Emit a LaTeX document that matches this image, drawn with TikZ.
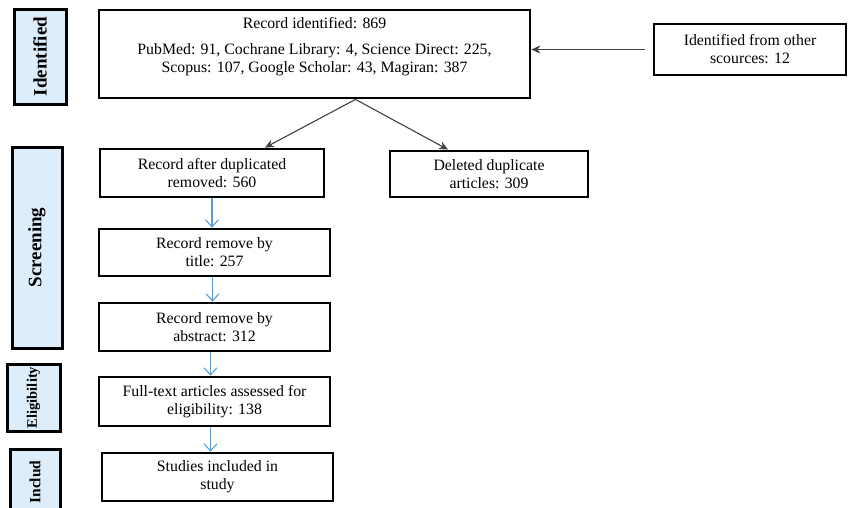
\documentclass[tikz,border=0pt]{standalone}
\usepackage{fontspec}
\setmainfont{Liberation Serif}
\usetikzlibrary{arrows.meta, positioning}
\definecolor{stagefill}{HTML}{DDEEFA}
\definecolor{flowblue}{HTML}{5B9BD5}
\definecolor{arrowgray}{HTML}{3E4440}

\begin{document}
\begin{tikzpicture}[x=1pt, y=-1pt,
    recbox/.style={draw=black, line width=2.8pt, fill=white, align=center,
      inner sep=2pt, font=\fontsize{15.8}{18}\selectfont},
    stagebox/.style={draw=black, line width=3pt, fill=stagefill, rotate=90,
      inner sep=0pt, font=\bfseries\fontsize{19}{22}\selectfont},
    grayarrow/.style={draw=arrowgray, line width=1.1pt,
      -{Stealth[length=9pt, width=8pt]}},
    bluearrow/.style={draw=flowblue, line width=1.1pt,
      -{Straight Barb[length=7pt, width=13pt]}}
  ]
  \useasboundingbox (0,0) rectangle (848,507);
  \clip (0,0) rectangle (848,507);

  % stages
  \node[stagebox, minimum width=95pt, minimum height=52pt] (sIdent) at (40,56.5) {Identified};
  \node[stagebox, minimum width=201pt, minimum height=50pt] (sScreen) at (37,247.5) {Screening};
  \node[stagebox, minimum width=67pt, minimum height=53pt,
    font=\bfseries\fontsize{14.5}{16}\selectfont] (sElig) at (33.5,397.5) {Eligibility};
  \node[stagebox, minimum width=66pt, minimum height=50pt,
    font=\bfseries\fontsize{15.5}{18}\selectfont] (sIncl) at (35,482) {Includ};

  % records
  \node[recbox, minimum width=431pt, minimum height=88pt] (ident) at (314.5,54)
    {Record identified: 869\\[8pt]
     PubMed: 91, Cochrane Library: 4, Science Direct: 225,\\
     Scopus: 107, Google Scholar: 43, Magiran: 387\\};
  \node[recbox, minimum width=192pt, minimum height=51pt] (other) at (750,49.5)
    {Identified from other\\ scources: 12};
  \node[recbox, minimum width=224pt, minimum height=48pt] (after) at (212,173)
    {Record after duplicated\\ removed: 560};
  \node[recbox, minimum width=198pt, minimum height=46pt] (deleted) at (489,174)
    {Deleted duplicate\\ articles: 309};
  \node[recbox, minimum width=231pt, minimum height=47pt] (title) at (214.5,252.5)
    {Record remove by\\ title: 257};
  \node[recbox, minimum width=231pt, minimum height=48pt] (abstract) at (214.5,327)
    {Record remove by\\ abstract: 312};
  \node[recbox, minimum width=231pt, minimum height=49pt] (fulltext) at (214.5,401.5)
    {Full-text articles assessed for\\ eligibility: 138};
  \node[recbox, minimum width=231pt, minimum height=48pt] (studies) at (217.5,477)
    {Studies included in\\ study};

  % connectors
  \coordinate (fork) at ([xshift=41pt]ident.south);
  \draw[grayarrow] (fork) -- ([xshift=53pt]after.north);
  \draw[grayarrow] (fork) -- ([xshift=-41pt]deleted.north);
  \draw[grayarrow, shorten <=8pt] (other.west) -- (other.west -| ident.east);

  \draw[bluearrow] (after.south) -- (after.south |- title.north);
  \draw[bluearrow] ([xshift=-2pt]title.south) -- ([xshift=-2pt]title.south |- abstract.north);
  \draw[bluearrow] ([xshift=-4pt]abstract.south) -- ([xshift=-4pt]abstract.south |- fulltext.north);
  \draw[bluearrow] ([xshift=-4pt]fulltext.south) -- ([xshift=-4pt]fulltext.south |- studies.north);
\end{tikzpicture}
\end{document}
